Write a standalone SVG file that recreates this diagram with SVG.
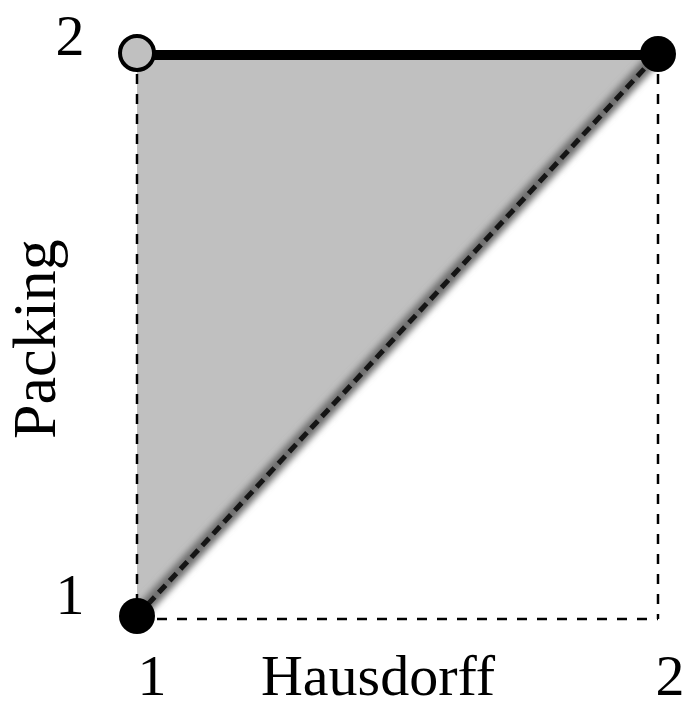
<svg xmlns="http://www.w3.org/2000/svg" width="688" height="708" viewBox="0 0 688 708">
<defs>
<style>
.lbl{font-family:"Liberation Serif","Times New Roman",serif;font-size:58px;fill:#000}
.dash{stroke:#000;stroke-width:2.5;stroke-dasharray:10 10;fill:none}
</style>
<filter id="blur" x="-10%" y="-10%" width="120%" height="120%"><feGaussianBlur stdDeviation="3"/></filter>
</defs>
<rect width="688" height="708" fill="#fff"/>
<g id="region"><polygon points="137,54 658,54 137,616" fill="#c0c0c0"/></g>
<g id="connectors">
<line class="dash" x1="137" y1="54" x2="137" y2="616"/>
<line class="dash" x1="658" y1="54" x2="658" y2="619"/>
<line class="dash" x1="137" y1="619" x2="658" y2="619"/>
<line x1="137" y1="616" x2="658" y2="54" stroke="#707070" stroke-width="14" filter="url(#blur)"/>
<line x1="137" y1="616" x2="658" y2="54" stroke="#151515" stroke-width="5" stroke-dasharray="10 6"/>
<line x1="137" y1="55" x2="658" y2="55" stroke="#000" stroke-width="10"/>
</g>
<g id="node-top-left"><circle cx="137" cy="53" r="17" fill="#c0c0c0" stroke="#000" stroke-width="4"/></g>
<g id="node-top-right"><circle cx="658" cy="54" r="18" fill="#000"/></g>
<g id="node-bottom-left"><circle cx="137" cy="616" r="18" fill="#000"/></g>
<g id="labels">
<text class="lbl" x="70" y="55" text-anchor="middle">2</text>
<text class="lbl" x="70" y="614" text-anchor="middle">1</text>
<text class="lbl" x="152" y="695" text-anchor="middle">1</text>
<text class="lbl" x="670" y="695" text-anchor="middle">2</text>
<text class="lbl" x="378" y="695" text-anchor="middle">Hausdorff</text>
<text class="lbl" transform="translate(55,339) rotate(-90)" text-anchor="middle" style="font-size:62px">Packing</text>
</g>
</svg>
